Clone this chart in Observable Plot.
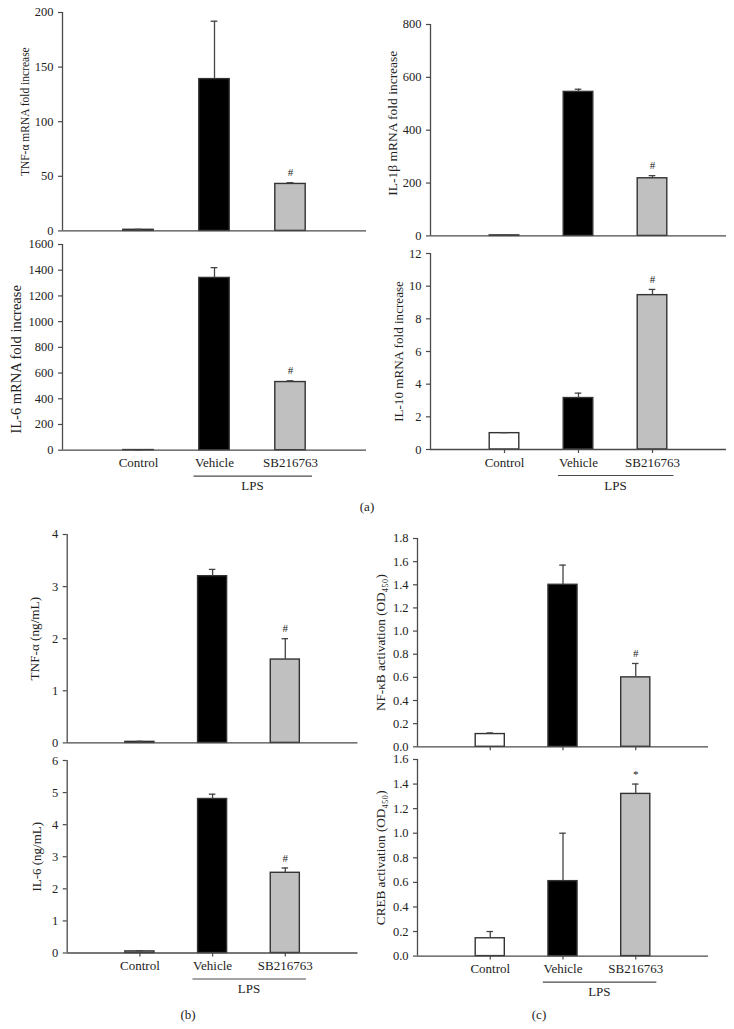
<!DOCTYPE html>
<html><head><meta charset="utf-8">
<script src="https://cdn.jsdelivr.net/npm/d3@7"></script>
<script src="https://cdn.jsdelivr.net/npm/@observablehq/plot@0.6"></script>
<style>
body{margin:0;background:#fff;}
#fig{position:relative;width:734px;height:1029px;font-family:"Liberation Serif",serif;color:#222;overflow:hidden;}
.panel{position:absolute;}
.panel text{font-family:"Liberation Serif","Times New Roman",serif;}
.tag{position:absolute;font-size:13px;transform:translate(-50%,-50%);white-space:nowrap;}
</style></head><body><div id="fig"></div>
<script>
// ---------- data ----------
const categories = ["Control", "Vehicle", "SB216763"];
const groupLabel = "LPS";
const barFills = ["#ffffff", "#000000", "#c0c0c0"];

const tnfMrnaMean = [1, 139, 43];
const tnfMrnaSem  = [0.4, 53, 1.2];
const il1bMrnaMean = [2, 545, 218];
const il1bMrnaSem  = [0.5, 10, 10];
const il6MrnaMean = [1, 1340, 530];
const il6MrnaSem  = [0.5, 80, 10];
const il10MrnaMean = [1.0, 3.15, 9.45];
const il10MrnaSem  = [0.03, 0.3, 0.35];
const tnfProtMean = [0.02, 3.2, 1.6];
const tnfProtSem  = [0.01, 0.13, 0.4];
const il6ProtMean = [0.05, 4.8, 2.5];
const il6ProtSem  = [0.02, 0.15, 0.15];
const nfkbMean = [0.11, 1.40, 0.60];
const nfkbSem  = [0.01, 0.17, 0.12];
const crebMean = [0.145, 0.61, 1.32];
const crebSem  = [0.055, 0.39, 0.08];

const sigHash = ["", "", "#"];
const sigStar = ["", "", "*"];

const ticksTnfMrna = [0, 50, 100, 150, 200];
const ticksIl1b = [0, 200, 400, 600, 800];
const ticksIl6Mrna = [0, 200, 400, 600, 800, 1000, 1200, 1400, 1600];
const ticksIl10 = [0, 2, 4, 6, 8, 10, 12];
const ticksTnfProt = [0, 1, 2, 3, 4];
const ticksIl6Prot = [0, 1, 2, 3, 4, 5, 6];
const ticksNfkb = [0, 0.2, 0.4, 0.6, 0.8, 1.0, 1.2, 1.4, 1.6, 1.8];
const ticksCreb = [0, 0.2, 0.4, 0.6, 0.8, 1.0, 1.2, 1.4, 1.6];

// ---------- drawing ----------
const fig = document.getElementById("fig");
const axisColor = "#4a4a4a";
const fontFamily = "'Liberation Serif', 'Times New Roman', serif";

function panel(cfg) {
  const mt = 14, mb = cfg.showCats ? 52 : 8, mr = 8;
  const ml = cfg.x0 - cfg.left;
  const width = cfg.x1 - cfg.left + mr;
  const height = (cfg.y0 - cfg.yTop) + mt + mb;
  const data = categories.map((c, i) => ({
    cat: c, pos: i + 1, value: cfg.means[i], top: cfg.means[i] + cfg.sems[i],
    sig: cfg.sig[i], fill: barFills[i]
  }));
  const vPos = categories.indexOf("Vehicle") + 1;
  const sPos = categories.indexOf("SB216763") + 1;
  const marks = [
    Plot.axisY({ticks: cfg.ticks, tickFormat: cfg.fmt, tickSize: 4, tickPadding: 5,
      stroke: axisColor, strokeWidth: 1.2, fontSize: 12.5, fontFamily, label: null}),
    Plot.rect(data, {x1: d => d.pos - 0.2, x2: d => d.pos + 0.2, y1: d => 0, y2: d => d.value,
      fill: "fill", stroke: "#333", strokeWidth: 1.4}),
    Plot.ruleX(data, {x: "pos", y1: "value", y2: "top", stroke: "#444", strokeWidth: 1.3}),
    Plot.ruleY(data, {y: "top", x1: d => d.pos - 0.045, x2: d => d.pos + 0.045, stroke: "#444", strokeWidth: 1.3}),
    Plot.text(data.filter(d => d.sig), {x: "pos", y: "top", text: "sig", dy: -10, fontSize: 11, fontFamily}),
    Plot.ruleX([0], {stroke: axisColor, strokeWidth: 1.3}),
    Plot.ruleY([0], {stroke: axisColor, strokeWidth: 1.3}),
    Plot.text([cfg.label], {frameAnchor: "left", textAnchor: "middle", lineAnchor: "middle", rotate: -90,
      dx: cfg.labelDx, dy: cfg.labelDy || 0, fontSize: cfg.labelSize, fontFamily})
  ];
  if (cfg.showCats || cfg.xTicks) {
    marks.push(Plot.axisX({ticks: [1, 2, 3], tickFormat: d => cfg.showCats ? categories[d - 1] : "",
      tickSize: cfg.xTicks ? 4 : 0, tickPadding: cfg.xTicks ? 4 : 8, stroke: axisColor, strokeWidth: 1.2,
      fontSize: 13, fontFamily, label: null}));
  }
  if (cfg.showCats) {
    marks.push(Plot.ruleY([{y: 0, a: vPos - 0.27, b: sPos + 0.29}], {y: "y", x1: "a", x2: "b", dy: 26, stroke: axisColor, strokeWidth: 1.2}));
    marks.push(Plot.text([{x: (vPos + sPos) / 2, y: 0, t: groupLabel}], {x: "x", y: "y", text: "t", dy: 36, fontSize: 13, fontFamily}));
  }
  const chart = Plot.plot({
    width, height, marginLeft: ml, marginRight: mr, marginTop: mt, marginBottom: mb,
    style: {background: "transparent", fontFamily, overflow: "visible", color: "#222"},
    x: {domain: [0, 4], axis: null},
    y: {domain: [0, cfg.max], axis: null},
    color: {type: "identity"},
    marks
  });
  chart.classList.add("panel");
  chart.style.left = cfg.left + "px";
  chart.style.top = (cfg.yTop - mt) + "px";
  chart.style.maxWidth = "none";
  fig.appendChild(chart);
}

const fInt = d3.format("d");
const f1 = d3.format(".1f");

panel({left: 0, x0: 62, x1: 366, yTop: 12.3, y0: 230.7, max: 200, ticks: ticksTnfMrna, fmt: fInt,
  label: "TNF-α mRNA fold increase", labelSize: 11.5, labelDx: -37, labelDy: -10,
  means: tnfMrnaMean, sems: tnfMrnaSem, sig: sigHash, showCats: false, xTicks: false});
panel({left: 0, x0: 62, x1: 366, yTop: 244.3, y0: 450, max: 1600, ticks: ticksIl6Mrna, fmt: fInt,
  label: "IL-6 mRNA fold increase", labelSize: 14.5, labelDx: -46, labelDy: 12,
  means: il6MrnaMean, sems: il6MrnaSem, sig: sigHash, showCats: true, xTicks: false});
panel({left: 367, x0: 430, x1: 726, yTop: 24.3, y0: 235.7, max: 800, ticks: ticksIl1b, fmt: fInt,
  label: "IL-1β mRNA fold increase", labelSize: 13.5, labelDx: -38, labelDy: -7,
  means: il1bMrnaMean, sems: il1bMrnaSem, sig: sigHash, showCats: false, xTicks: false});
panel({left: 367, x0: 430, x1: 726, yTop: 253.3, y0: 449.3, max: 12, ticks: ticksIl10, fmt: fInt,
  label: "IL-10 mRNA fold increase", labelSize: 13.1, labelDx: -32,
  means: il10MrnaMean, sems: il10MrnaSem, sig: sigHash, showCats: true, xTicks: true});
panel({left: 0, x0: 66.7, x1: 357.5, yTop: 534.3, y0: 742.7, max: 4, ticks: ticksTnfProt, fmt: fInt,
  label: "TNF-α (ng/mL)", labelSize: 13.2, labelDx: -32,
  means: tnfProtMean, sems: tnfProtSem, sig: sigHash, showCats: false, xTicks: false});
panel({left: 0, x0: 66.7, x1: 357.5, yTop: 760.2, y0: 952.7, max: 6, ticks: ticksIl6Prot, fmt: fInt,
  label: "IL-6 (ng/mL)", labelSize: 13, labelDx: -30,
  means: il6ProtMean, sems: il6ProtSem, sig: sigHash, showCats: true, xTicks: true});
panel({left: 367, x0: 417, x1: 708, yTop: 537.7, y0: 746, max: 1.8, ticks: ticksNfkb, fmt: f1,
  label: "NF-κB activation (OD₄₅₀)", labelSize: 13.2, labelDx: -37,
  means: nfkbMean, sems: nfkbSem, sig: sigHash, showCats: false, xTicks: true});
panel({left: 367, x0: 417, x1: 708, yTop: 759.4, y0: 956, max: 1.6, ticks: ticksCreb, fmt: f1,
  label: "CREB activation (OD₄₅₀)", labelSize: 13.2, labelDx: -37,
  means: crebMean, sems: crebSem, sig: sigStar, showCats: true, xTicks: true});

function tag(text, x, y) {
  const d = document.createElement("div");
  d.className = "tag"; d.textContent = text;
  d.style.left = x + "px"; d.style.top = y + "px";
  fig.appendChild(d);
}
tag("(a)", 367, 507);
tag("(b)", 188, 1015);
tag("(c)", 539, 1015);
</script></body></html>
